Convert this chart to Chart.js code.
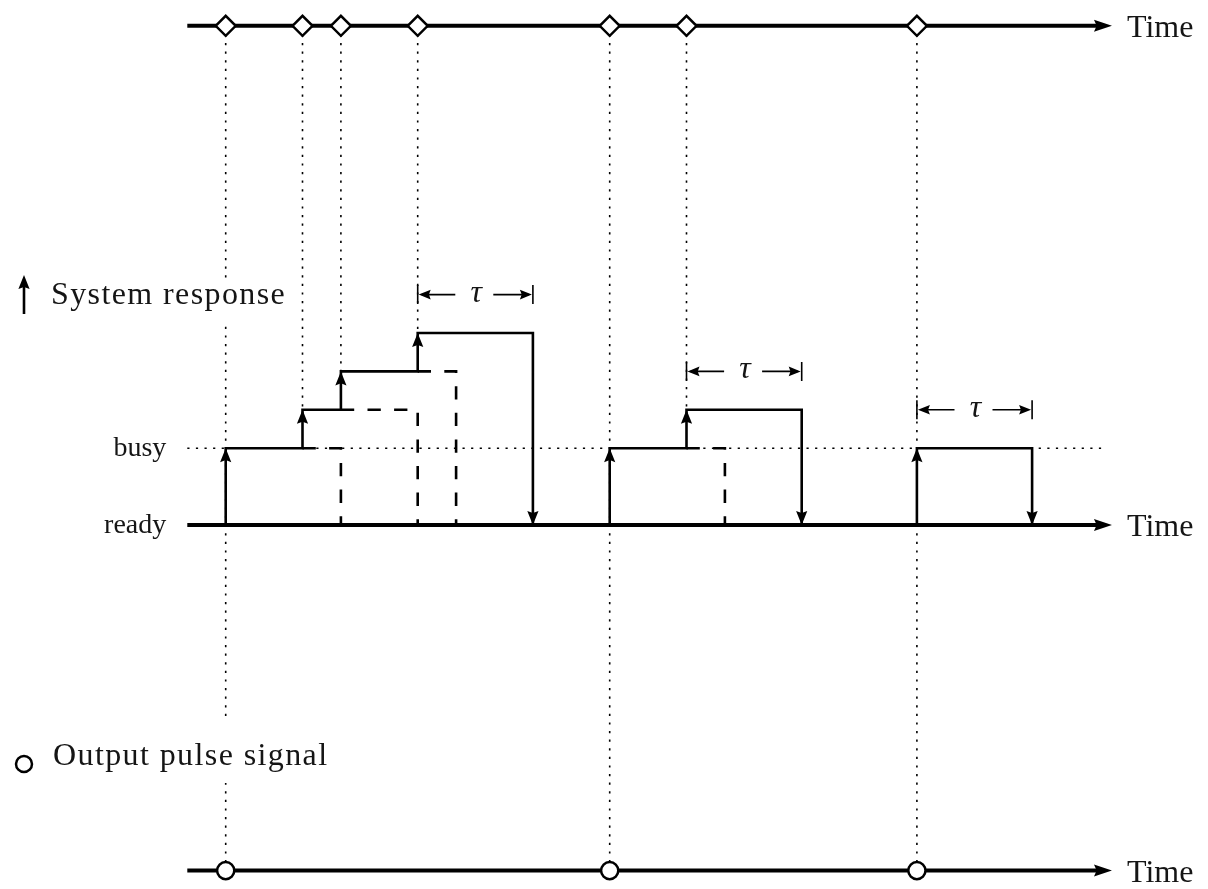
<!DOCTYPE html>
<html>
<head>
<meta charset="utf-8">
<script src="https://cdn.jsdelivr.net/npm/chart.js@4.4.1/dist/chart.umd.min.js"></script>
<style>
  html, body { margin: 0; padding: 0; background: #fff; }
  #wrap { width: 1208px; height: 889px; }
</style>
</head>
<body>
<div id="wrap"><canvas id="c" width="1208" height="889"></canvas></div>
<script>
// Input events (time unit = one third of the dead time)
const eventTimes = [0, 2, 3, 5, 10, 12, 18];
// Response level right after each event (ready = 0, busy = 2)
const responseLevels = [2, 3, 4, 5, 2, 3, 2];
// Dead time τ
const deadTime = 3;
// Output pulses
const outputTimes = [0, 10, 18];
// τ dimension markers: start time and height
const tauStarts = [5, 12, 18];
const tauLevels = [6, 4, 3];
// Time axes (input line, response line, output line)
const axisLevels = [13, 0, -9];
const axisLabels = ['Time', 'Time', 'Time'];
const axisStart = -1;
const axisEnd = 23.08;
// Response states
const readyLevel = 0;
const busyLevel = 2;
const stateLevels = [readyLevel, busyLevel];
const stateLabels = ['ready', 'busy'];
// Legend texts
const legendTexts = ['System response', 'Output pulse signal'];

const INK = '#000';
const TEXT = '#151515';
const SERIF = '"Liberation Serif", "Times New Roman", serif';

// Group events into bursts: an event inside the dead time of the previous one extends it
const bursts = [];
eventTimes.forEach((t, i) => {
  const cur = bursts[bursts.length - 1];
  if (cur && t < cur[cur.length - 1].t + deadTime) cur.push({ t, level: responseLevels[i] });
  else bursts.push([{ t, level: responseLevels[i] }]);
});

function solidPath(b) {
  const pts = [{ x: b[0].t, y: readyLevel }];
  b.forEach((e, k) => {
    const next = b[k + 1];
    pts.push({ x: e.t, y: e.level });
    pts.push({ x: next ? next.t : e.t + deadTime, y: e.level });
  });
  pts.push({ x: b[b.length - 1].t + deadTime, y: readyLevel });
  return pts;
}

const base = { showLine: true, pointRadius: 0, pointHoverRadius: 0, fill: false, tension: 0, clip: false, borderColor: INK, backgroundColor: INK };
const datasets = [];

// event markers on the input line
datasets.push({ ...base, showLine: false, order: 0, data: eventTimes.map(t => ({ x: t, y: axisLevels[0] })),
  pointStyle: 'rectRot', pointRadius: 10, pointBackgroundColor: '#fff', pointBorderColor: INK, pointBorderWidth: 2.5 });
// output pulses
datasets.push({ ...base, showLine: false, order: 0, data: outputTimes.map(t => ({ x: t, y: axisLevels[2] })),
  pointStyle: 'circle', pointRadius: 8.6, pointBackgroundColor: '#fff', pointBorderColor: INK, pointBorderWidth: 2.5 });
// time axes
axisLevels.forEach(v => datasets.push({ ...base, order: 2, borderWidth: 4,
  data: [{ x: axisStart, y: v }, { x: axisEnd - 0.25, y: v }] }));
// response steps
bursts.forEach(b => datasets.push({ ...base, order: 3, borderWidth: 2.6, data: solidPath(b) }));
// extinguished dead-time windows
bursts.forEach(b => b.slice(0, -1).forEach((e, k) => datasets.push({ ...base, order: 4, borderWidth: 2.6,
  borderDash: [13.3, 13.3],
  data: [{ x: b[k + 1].t, y: e.level }, { x: e.t + deadTime, y: e.level }, { x: e.t + deadTime, y: readyLevel }] })));
// busy reference level
datasets.push({ ...base, order: 6, borderWidth: 1.6, borderDash: [2.2, 6.4],
  data: [{ x: axisStart, y: busyLevel }, { x: axisEnd - 0.2, y: busyLevel }] });
// guides from each event down
eventTimes.forEach((t, i) => {
  const bottom = outputTimes.includes(t) ? axisLevels[2] : responseLevels[i];
  datasets.push({ ...base, order: 7, borderWidth: 1.6, borderDash: [2.2, 6.4],
    data: [{ x: t, y: axisLevels[0] }, { x: t, y: bottom }] });
});

function arrowHead(ctx, x, y, angle, len, half, notch) {
  ctx.save();
  ctx.translate(x, y);
  ctx.rotate(angle);
  ctx.beginPath();
  ctx.moveTo(0, 0);
  ctx.lineTo(-len, -half);
  ctx.lineTo(-len * (notch || 0.85), 0);
  ctx.lineTo(-len, half);
  ctx.closePath();
  ctx.fill();
  ctx.restore();
}

const decor = {
  id: 'decor',
  beforeDraw(chart) {
    const ctx = chart.ctx;
    ctx.save();
    ctx.fillStyle = '#fff';
    ctx.fillRect(0, 0, chart.width, chart.height);
    ctx.restore();
  },
  afterDatasetsDraw(chart) {
    const ctx = chart.ctx;
    const xs = chart.scales.x, ys = chart.scales.y;
    const px = v => xs.getPixelForValue(v);
    const py = v => ys.getPixelForValue(v);
    ctx.save();
    ctx.fillStyle = INK;
    ctx.strokeStyle = INK;

    // axis arrows and labels
    axisLevels.forEach((v, i) => {
      arrowHead(ctx, px(axisEnd), py(v), 0, 18, 6, 0.85);
      ctx.fillStyle = TEXT;
      ctx.font = '32px ' + SERIF;
      ctx.textAlign = 'left';
      ctx.textBaseline = 'alphabetic';
      ctx.fillText(axisLabels[i], px(axisEnd) + 15, py(v) + 11);
      ctx.fillStyle = INK;
    });

    // arrowheads on the response
    bursts.forEach(b => {
      b.forEach(e => arrowHead(ctx, px(e.t), py(e.level), -Math.PI / 2, 14, 5.6));
      arrowHead(ctx, px(b[b.length - 1].t + deadTime), py(readyLevel), Math.PI / 2, 14, 5.6);
    });

    // τ dimensions
    tauStarts.forEach((t0, i) => {
      const x0 = px(t0), x1 = px(t0 + deadTime), y = py(tauLevels[i]);
      const xm = (x0 + x1) / 2;
      ctx.lineWidth = 1.6;
      ctx.beginPath();
      ctx.moveTo(x0, y - 9.5); ctx.lineTo(x0, y + 9.5);
      ctx.moveTo(x1, y - 9.5); ctx.lineTo(x1, y + 9.5);
      ctx.moveTo(xm - 20, y); ctx.lineTo(x0 + 4, y);
      ctx.moveTo(xm + 18, y); ctx.lineTo(x1 - 4, y);
      ctx.stroke();
      arrowHead(ctx, x0 + 1, y, Math.PI, 12, 4.8);
      arrowHead(ctx, x1 - 1, y, 0, 12, 4.8);
      ctx.fillStyle = TEXT;
      ctx.font = 'italic 32px ' + SERIF;
      ctx.textAlign = 'center';
      ctx.textBaseline = 'alphabetic';
      ctx.fillText('τ', xm + 1, y + 7);
      ctx.fillStyle = INK;
    });

    // state labels
    ctx.fillStyle = TEXT;
    ctx.font = '28px ' + SERIF;
    ctx.textAlign = 'right';
    stateLevels.forEach((v, i) => ctx.fillText(stateLabels[i], px(axisStart) - 21, py(v) + 7.5));

    // legend entries (white boxes interrupt the guide lines behind them)
    ctx.fillStyle = '#fff';
    ctx.fillRect(44, 283, 248, 40);
    ctx.fillRect(44, 718, 300, 65);
    ctx.fillStyle = TEXT;
    ctx.font = '32px ' + SERIF;
    ctx.textAlign = 'left';
    ctx.letterSpacing = '1.4px';
    ctx.fillText(legendTexts[0], 51, 304);
    ctx.fillText(legendTexts[1], 53, 765);
    ctx.letterSpacing = '0px';

    ctx.fillStyle = INK;
    ctx.lineWidth = 2.6;
    ctx.beginPath();
    ctx.moveTo(24, 314); ctx.lineTo(24, 280);
    ctx.stroke();
    arrowHead(ctx, 24, 275, -Math.PI / 2, 14, 5.6);

    ctx.lineWidth = 2.5;
    ctx.fillStyle = '#fff';
    ctx.beginPath();
    ctx.arc(24, 764, 8, 0, Math.PI * 2);
    ctx.fill();
    ctx.stroke();
    ctx.restore();
  }
};

new Chart(document.getElementById('c'), {
  type: 'scatter',
  data: { datasets },
  options: {
    responsive: false,
    devicePixelRatio: 1,
    animation: false,
    events: [],
    layout: { padding: { left: 187.3, right: 60.7, top: 25.8, bottom: 18.4 } },
    scales: {
      x: { type: 'linear', min: -1, max: 24, display: false },
      y: { type: 'linear', min: -9, max: 13, display: false }
    },
    plugins: { legend: { display: false }, tooltip: { enabled: false } }
  },
  plugins: [decor]
});
</script>
</body>
</html>
